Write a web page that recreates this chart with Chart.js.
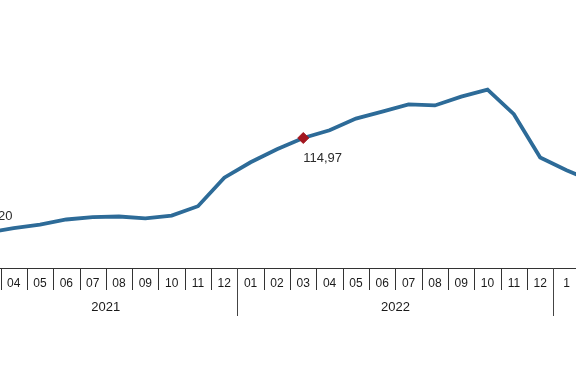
<!DOCTYPE html>
<html>
<head>
<meta charset="utf-8">
<script src="https://cdn.jsdelivr.net/npm/chart.js@4.4.1/dist/chart.umd.min.js"></script>
<style>
    html, body { margin: 0; padding: 0; background: #ffffff; }
    #wrap { position: relative; width: 576px; height: 375px; overflow: hidden; }
    #ppiChart { position: absolute; left: -40px; top: 0; }
</style>
</head>
<body>
<div id="wrap">
    <canvas id="ppiChart" width="660" height="375"></canvas>
</div>
<script>
// Month tick labels (03/2021 .. 2/2023)
const monthLabels = ['03', '04', '05', '06', '07', '08', '09', '10', '11', '12',
    '01', '02', '03', '04', '05', '06', '07', '08', '09', '10', '11', '12',
    '1', '2'];

// Year groups under the months (the last one is cut off in the picture, no name shown)
const yearLabels = ['2021', '2022', ''];
const yearMonthCounts = [10, 12, 2];

// Annual change (%)
const annualChange = [31.20, 35.17, 38.33, 42.89, 44.92, 45.52, 43.96, 46.31, 54.62, 79.89,
    93.53, 105.01, 114.97, 121.82, 132.16, 138.31, 144.61, 143.75, 151.50, 157.69, 136.02, 97.72,
    86.46, 76.61];

// Points that get a value label, and the one with a marker
const labelledPoints = [0, 12];
const markedPoint = 12;

const fontFamily = '"Liberation Sans", Arial, sans-serif';

function formatValue(v) {
    return v.toFixed(2).replace('.', ',');
}

// Draws the category boundary ticks, year separators and year names
const groupAxisPlugin = {
    id: 'groupAxis',
    afterDraw(chart) {
        const ctx = chart.ctx;
        const xs = chart.scales.x;
        const top = xs.top;
        const step = xs.getPixelForValue(1) - xs.getPixelForValue(0);
        const edge = i => xs.getPixelForValue(i) - step / 2;

        ctx.save();
        ctx.strokeStyle = '#333333';
        ctx.lineWidth = 1;
        for (let i = 0; i <= monthLabels.length; i++) {
            const x = Math.round(edge(i)) + 0.5;
            ctx.beginPath();
            ctx.moveTo(x, top);
            ctx.lineTo(x, top + 22);
            ctx.stroke();
        }

        let start = 0;
        ctx.fillStyle = '#1a1a1a';
        ctx.font = '13px ' + fontFamily;
        ctx.textAlign = 'center';
        ctx.textBaseline = 'middle';
        yearLabels.forEach((year, g) => {
            const end = start + yearMonthCounts[g];
            const x0 = edge(start);
            const x1 = edge(end);
            if (year) {
                ctx.fillText(year, (x0 + x1) / 2, top + 39);
            }
            if (g < yearLabels.length - 1) {
                const x = Math.round(x1) + 0.5;
                ctx.strokeStyle = '#444444';
                ctx.beginPath();
                ctx.moveTo(x, top);
                ctx.lineTo(x, top + 48);
                ctx.stroke();
            }
            start = end;
        });
        ctx.restore();
    }
};

// Value labels next to selected points
const valueLabelPlugin = {
    id: 'valueLabels',
    afterDatasetsDraw(chart) {
        const ctx = chart.ctx;
        const meta = chart.getDatasetMeta(0);
        ctx.save();
        ctx.fillStyle = '#2b2b2b';
        ctx.font = '13px ' + fontFamily;
        ctx.textBaseline = 'middle';
        labelledPoints.forEach(i => {
            const pt = meta.data[i];
            const text = formatValue(annualChange[i]);
            if (i === markedPoint) {
                ctx.textAlign = 'left';
                ctx.fillText(text, pt.x, pt.y + 20);
            } else {
                ctx.textAlign = 'right';
                ctx.fillText(text, pt.x + 25, pt.y - 16);
            }
        });
        ctx.restore();
    }
};

const ctx = document.getElementById('ppiChart').getContext('2d');
new Chart(ctx, {
    type: 'line',
    data: {
        labels: monthLabels,
        datasets: [{
            data: annualChange,
            borderColor: '#2d6b98',
            borderWidth: 3.8,
            tension: 0,
            fill: false,
            pointStyle: 'rectRot',
            pointRadius: c => (c.dataIndex === markedPoint ? 5.5 : 0),
            pointHoverRadius: 0,
            pointBackgroundColor: '#a3161f',
            pointBorderColor: '#a3161f',
            pointBorderWidth: 1
        }]
    },
    options: {
        responsive: false,
        animation: false,
        events: [],
        layout: {
            padding: { left: 14.2, right: 14, top: 0, bottom: 0 }
        },
        plugins: {
            legend: { display: false },
            tooltip: { enabled: false }
        },
        scales: {
            x: {
                type: 'category',
                offset: true,
                afterFit: scale => { scale.height = 107; },
                grid: { display: true, offset: true, drawOnChartArea: false, drawTicks: false },
                border: { display: true, color: '#333333', width: 1 },
                ticks: {
                    autoSkip: false,
                    maxRotation: 0,
                    padding: 8,
                    color: '#1a1a1a',
                    font: { family: fontFamily, size: 12 }
                }
            },
            y: {
                display: false,
                min: 0,
                max: 237
            }
        }
    },
    plugins: [groupAxisPlugin, valueLabelPlugin]
});
</script>
</body>
</html>
